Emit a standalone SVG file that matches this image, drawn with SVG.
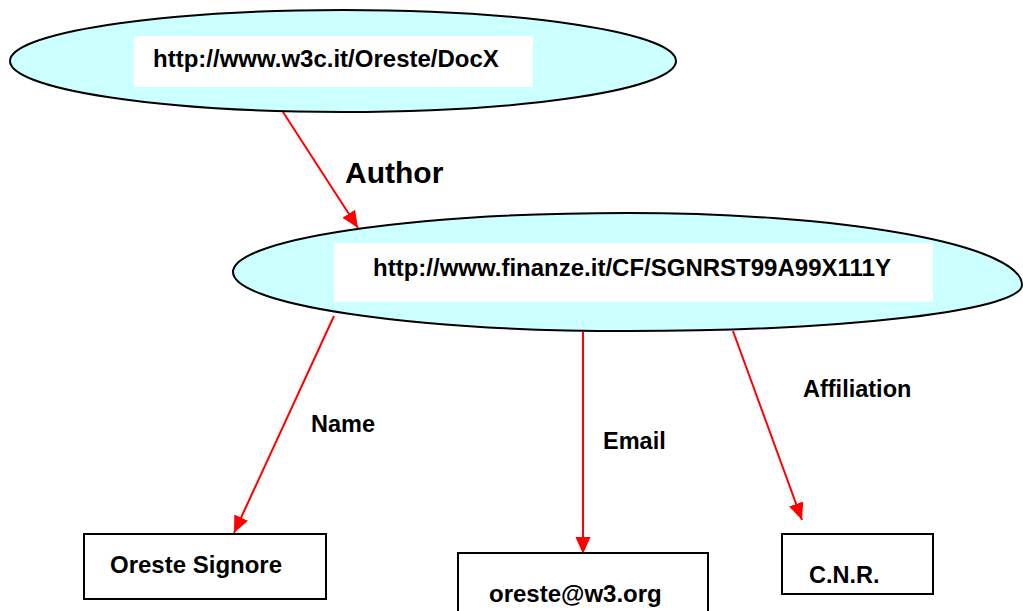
<svg xmlns="http://www.w3.org/2000/svg" width="1023" height="611" viewBox="0 0 1023 611">
  <defs>
    <style>
      .res { fill: #CCFFFF; stroke: #000; stroke-width: 2; }
      .lab { fill: #FFFFFF; stroke: none; }
      .box { fill: #FFFFFF; stroke: #000; stroke-width: 2; }
      .edge { stroke: #FF0000; stroke-width: 2; fill: none; marker-end: url(#arrow); }
      text { font-family: "Liberation Sans", Arial, sans-serif; font-weight: bold; fill: #000; }
      .t24 { font-size: 24px; }
      .t23 { font-size: 23.5px; }
      .big { font-size: 30px; }
    </style>
    <marker id="arrow" markerUnits="userSpaceOnUse" markerWidth="18" markerHeight="16" refX="17" refY="7.5" orient="auto">
      <path d="M0,0 L17,7.5 L0,15 z" fill="#FF0000"/>
    </marker>
  </defs>

  <rect width="1023" height="611" fill="#FFFFFF"/>

  <!-- connectors -->
  <g id="edges">
    <line class="edge" x1="283" y1="112" x2="358" y2="228"/>
    <line class="edge" x1="334" y1="316" x2="234" y2="533"/>
    <line class="edge" x1="583" y1="332" x2="583" y2="554"/>
    <line class="edge" x1="733" y1="331" x2="802" y2="520"/>
    <text id="lbl-author" class="big" x="345" y="183">Author</text>
    <text id="lbl-name" class="t23" x="311" y="432">Name</text>
    <text id="lbl-email" class="t23" x="603" y="449">Email</text>
    <text id="lbl-affiliation" class="t23" x="803" y="397">Affiliation</text>
  </g>

  <!-- document resource -->
  <g id="doc">
    <ellipse class="res" cx="343" cy="61" rx="333" ry="51"/>
    <rect class="lab" x="134" y="36" width="399" height="51"/>
    <text class="t24" x="153" y="67">http://www.w3c.it/Oreste/DocX</text>
  </g>

  <!-- author resource -->
  <g id="author">
    <path class="res" d="M233,272 A395,59 0 0 1 628,213 A394,72 0 0 1 1022,285 A394,46 0 0 1 628,331 A395,59 0 0 1 233,272 Z"/>
    <rect class="lab" x="334" y="243" width="599" height="59"/>
    <text class="t24" x="373" y="276">http://www.finanze.it/CF/SGNRST99A99X111Y</text>
  </g>

  <!-- literal values -->
  <g id="name">
    <rect class="box" x="84" y="534" width="242" height="65"/>
    <text class="t24" x="110" y="573">Oreste Signore</text>
  </g>

  <g id="email">
    <rect class="box" x="458" y="553" width="250" height="70"/>
    <text class="t24" x="489" y="602">oreste@w3.org</text>
  </g>

  <g id="affiliation">
    <rect class="box" x="782" y="534" width="151" height="60"/>
    <text class="t23" x="809" y="583">C.N.R.</text>
  </g>
</svg>
